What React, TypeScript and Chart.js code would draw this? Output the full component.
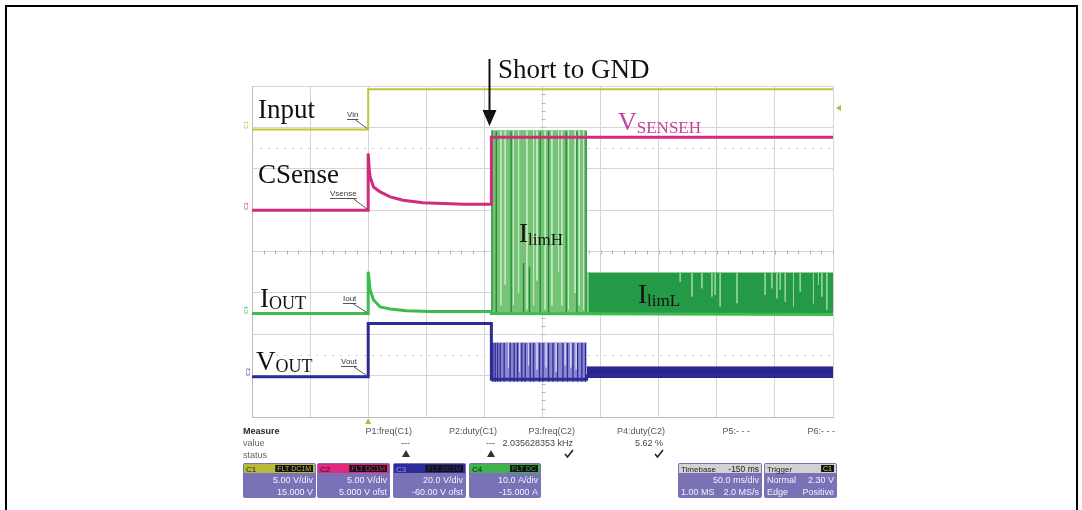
import React, { useEffect, useRef } from 'react';
import { Chart, registerables } from 'chart.js';

Chart.register(...registerables);

const W = 1082;
const H = 510;

// ---------- data: time in ms (50 ms/div), vertical position in screen divisions (0 = bottom) ----------
const timeMin = -100;
const timeMax = 400;
const timeStep = 50;
const divMin = 0;
const divMax = 8;

const shortT = 106; // short to GND instant
const foldbackT = 188; // switch from IlimH to IlimL

const inputT = [-100, 0, 0, 400];
const inputDiv = [6.95, 6.95, 7.92, 7.92];

const csenseT = [-100, 0, 0, 1, 1.7, 4.6, 10.3, 19, 30, 47, 82, 106, 106, 400];
const csenseDiv = [5.0, 5.0, 6.37, 5.95, 5.8, 5.56, 5.44, 5.32, 5.24, 5.18, 5.14, 5.14, 6.76, 6.76];

const ioutT = [-100, 0, 0, 1.7, 4.6, 10.3, 19, 33, 53, 106, 106, 400];
const ioutDiv = [2.5, 2.5, 3.51, 3.07, 2.83, 2.66, 2.61, 2.57, 2.55, 2.55, 2.5, 2.48];

const voutT = [-100, 0, 0, 106, 106, 188, 188, 400];
const voutDiv = [0.97, 0.97, 2.26, 2.26, 0.91, 0.91, 1.0, 1.0];

// burst envelopes [top, bottom]
const ilimHBand = [6.92, 2.5];
const ilimLBand = [3.48, 2.47];
const voutHBand = [1.79, 0.85];
const voutLBand = [1.21, 0.94];

const ilimHDarkT = [106.5, 110.2, 123.0, 133.7, 138.8, 148.0, 155.2, 170.4, 179.6, 187.6];
const ilimHDarkTop = [6.92, 6.9, 6.9, 3.72, 3.63, 6.9, 6.9, 6.9, 6.9, 6.9];
const ilimHLightT = [114.2, 117.9, 125.0, 129.4, 136.6, 142.3, 145.2, 152.3, 158.1, 163.8, 166.7, 172.4, 178.1, 181.6, 185.3];
const ilimHLightBottom = [2.7, 3.2, 2.7, 3.0, 2.6, 2.7, 3.3, 2.6, 2.7, 3.5, 2.7, 2.6, 3.0, 2.7, 2.6];

const ilimLSpikeT = [189, 268.5, 278.6, 287.2, 295.8, 298.6, 302.9, 317.3, 341.6, 347.4, 351.7, 354.6, 358.9, 366.0, 371.8, 383.2, 387.5, 390.4, 394.7];
const ilimLSpikeBottom = [2.5, 3.27, 2.91, 3.11, 2.91, 2.95, 2.67, 2.75, 2.95, 3.11, 2.87, 3.07, 2.79, 2.67, 3.03, 2.75, 3.19, 2.91, 2.59];

const voutHDarkT = [107.3, 109.3, 111.3, 113.6, 117.0, 122.2, 125.6, 128.5, 132.2, 135.1, 139.4, 142.3, 147.4, 150.4, 155.2, 159.0, 162.9, 167.6, 171.5, 176.2, 180.2, 183.9, 187.0];
const voutHLightT = [120.7, 130.2, 138.0, 145.2, 153.2, 161.8, 169.5, 174.4, 179.0];
const voutHLightBottom = [1.2, 1.1, 1.25, 1.15, 1.2, 1.1, 1.25, 1.2, 1.15];

const dottedRowsDiv = [6.5, 1.5];
const triggerLevelDiv = 7.47;

// ---------- texts ----------
const measureNames = ['P1:freq(C1)', 'P2:duty(C1)', 'P3:freq(C2)', 'P4:duty(C2)', 'P5:- - -', 'P6:- - -'];
const measureValues = ['---', '---', '2.035628353 kHz', '5.62 %', '', ''];
const measureStatus = ['warn', 'warn', 'ok', 'ok', '', ''];
const channelNames = ['C1', 'C2', 'C3', 'C4'];
const channelTags = ['FLT DC1M', 'FLT DC1M', 'FLT DC1M', 'FLT DC'];
const channelScales = ['5.00 V/div', '5.00 V/div', '20.0 V/div', '10.0 A/div'];
const channelOffsets = ['15.000 V', '5.000 V ofst', '-60.00 V ofst', '-15.000 A'];

const serif = '"Liberation Serif", "Times New Roman", serif';
const sans = '"Liberation Sans", Arial, sans-serif';

const xy = (ts: number[], vs: number[]) => ts.map((t, i) => ({ x: t, y: vs[i] }));
const segs = (ts: number[], from: number[] | number, to: number[] | number) => {
  const pts: any[] = [];
  ts.forEach((t, i) => {
    const a = Array.isArray(from) ? from[i] : from;
    const b = Array.isArray(to) ? to[i] : to;
    pts.push({ x: t, y: a }, { x: t, y: b }, { x: t, y: null });
  });
  return pts;
};

const ds = (label: string, data: any[], color: string, width: number, order: number, extra: any = {}) => ({
  label,
  data,
  borderColor: color,
  backgroundColor: color,
  borderWidth: width,
  pointRadius: 0,
  tension: 0,
  fill: false,
  spanGaps: false,
  order,
  ...extra,
});

function subText(ctx: CanvasRenderingContext2D, main: string, sub: string, x: number, y: number, color: string, mainSize: number, subSize: number, drop: number) {
  ctx.fillStyle = color;
  ctx.textAlign = 'left';
  ctx.font = `${mainSize}px ${serif}`;
  ctx.fillText(main, x, y);
  const w = ctx.measureText(main).width;
  ctx.font = `${subSize}px ${serif}`;
  ctx.fillText(sub, x + w, y + drop);
}

function rrect(ctx: CanvasRenderingContext2D, x: number, y: number, w: number, h: number, r: number) {
  ctx.beginPath();
  ctx.moveTo(x + r, y);
  ctx.lineTo(x + w - r, y);
  ctx.quadraticCurveTo(x + w, y, x + w, y + r);
  ctx.lineTo(x + w, y + h - r);
  ctx.quadraticCurveTo(x + w, y + h, x + w - r, y + h);
  ctx.lineTo(x + r, y + h);
  ctx.quadraticCurveTo(x, y + h, x, y + h - r);
  ctx.lineTo(x, y + r);
  ctx.quadraticCurveTo(x, y, x + r, y);
  ctx.closePath();
}

function panelBox(
  ctx: CanvasRenderingContext2D,
  x: number,
  w: number,
  headColor: string,
  headLeft: string,
  headLeftColor: string,
  tag: string,
  tagColor: string,
  headRight: string,
  rows: [string, string][]
) {
  const y = 463;
  const h = 35;
  const hh = 10;
  ctx.fillStyle = '#7a72b7';
  rrect(ctx, x, y, w, h, 2);
  ctx.fill();
  ctx.fillStyle = headColor;
  ctx.fillRect(x + 1, y + 1, w - 2, hh - 1);
  ctx.font = `8px ${sans}`;
  ctx.textAlign = 'left';
  ctx.fillStyle = headLeftColor;
  ctx.fillText(headLeft, x + 3, y + 8.5);
  if (tag) {
    ctx.font = `7px ${sans}`;
    const tw = ctx.measureText(tag).width + 4;
    ctx.fillStyle = '#141414';
    ctx.fillRect(x + w - 3 - tw, y + 2, tw, hh - 3);
    ctx.fillStyle = tagColor;
    ctx.fillText(tag, x + w - 1 - tw, y + 8);
  }
  if (headRight) {
    ctx.font = `8.5px ${sans}`;
    ctx.textAlign = 'right';
    ctx.fillStyle = '#222';
    ctx.fillText(headRight, x + w - 3, y + 8.5);
  }
  ctx.font = `9px ${sans}`;
  ctx.fillStyle = '#f2f2fb';
  rows.forEach((r, i) => {
    const by = y + 20 + i * 11.5;
    if (r[0]) {
      ctx.textAlign = 'left';
      ctx.fillText(r[0], x + 3, by);
    }
    if (r[1]) {
      ctx.textAlign = 'right';
      ctx.fillText(r[1], x + w - 3, by);
    }
  });
}

const deco = {
  id: 'deco',
  beforeDraw(chart: any) {
    const ctx = chart.ctx;
    ctx.save();
    ctx.fillStyle = '#ffffff';
    ctx.fillRect(0, 0, W, H);
    ctx.restore();
  },
  beforeDatasetsDraw(chart: any) {
    const ctx: CanvasRenderingContext2D = chart.ctx;
    const xs = chart.scales.x;
    const ys = chart.scales.y;
    ctx.save();
    ctx.strokeStyle = '#d0d0d0';
    ctx.lineWidth = 1;
    ctx.setLineDash([2, 6]);
    dottedRowsDiv.forEach((d) => {
      const py = Math.round(ys.getPixelForValue(d)) + 0.5;
      ctx.beginPath();
      ctx.moveTo(xs.left, py);
      ctx.lineTo(xs.right, py);
      ctx.stroke();
    });
    ctx.setLineDash([]);
    ctx.strokeStyle = '#b5b5b5';
    const cy = Math.round(ys.getPixelForValue((divMin + divMax) / 2)) + 0.5;
    ctx.beginPath();
    for (let t = timeMin; t <= timeMax; t += 10) {
      const px = Math.round(xs.getPixelForValue(t)) + 0.5;
      ctx.moveTo(px, cy - 2);
      ctx.lineTo(px, cy + 2);
    }
    const cx = Math.round(xs.getPixelForValue((timeMin + timeMax) / 2)) + 0.5;
    for (let d = divMin; d <= divMax; d += 0.2) {
      const py = Math.round(ys.getPixelForValue(d)) + 0.5;
      ctx.moveTo(cx - 2, py);
      ctx.lineTo(cx + 2, py);
    }
    ctx.stroke();
    ctx.restore();
  },
  afterDraw(chart: any) {
    const ctx: CanvasRenderingContext2D = chart.ctx;
    const xs = chart.scales.x;
    const ys = chart.scales.y;
    ctx.save();
    ctx.textBaseline = 'alphabetic';

    // trace names
    ctx.fillStyle = '#111';
    ctx.font = `27px ${serif}`;
    ctx.textAlign = 'left';
    ctx.fillText('Input', 258, 118);
    ctx.fillText('CSense', 258, 183);
    subText(ctx, 'I', 'OUT', 260, 307, '#111', 27, 18, 2);
    subText(ctx, 'V', 'OUT', 256, 370, '#111', 27, 18, 2);
    subText(ctx, 'I', 'limH', 519, 242, '#111', 27, 17, 3);
    subText(ctx, 'I', 'limL', 638, 303, '#111', 27, 17, 3);
    subText(ctx, 'V', 'SENSEH', 618, 130, '#c2429c', 26, 17, 3);

    // short to GND arrow
    const ax = Math.round(xs.getPixelForValue(shortT)) - 1.5;
    ctx.fillStyle = '#111';
    ctx.font = `27px ${serif}`;
    ctx.fillText('Short to GND', 498, 78);
    ctx.strokeStyle = '#111';
    ctx.lineWidth = 2;
    ctx.beginPath();
    ctx.moveTo(ax, 59);
    ctx.lineTo(ax, 112);
    ctx.stroke();
    ctx.beginPath();
    ctx.moveTo(ax - 7, 110);
    ctx.lineTo(ax + 7, 110);
    ctx.lineTo(ax, 126);
    ctx.closePath();
    ctx.fill();

    // small probe labels with leaders
    const t0 = xs.getPixelForValue(0);
    const probe = (txt: string, x: number, y: number, levelDiv: number) => {
      ctx.font = `8px ${sans}`;
      ctx.fillStyle = '#3a3a3a';
      ctx.textAlign = 'left';
      ctx.fillText(txt, x, y);
      const w = ctx.measureText(txt).width;
      ctx.strokeStyle = '#555';
      ctx.lineWidth = 1;
      ctx.beginPath();
      ctx.moveTo(x, y + 2.5);
      ctx.lineTo(x + w, y + 2.5);
      ctx.moveTo(x + w - 3, y + 3);
      ctx.lineTo(t0 - 1, ys.getPixelForValue(levelDiv) - 1);
      ctx.stroke();
    };
    probe('Vin', 347, 117, inputDiv[0]);
    probe('Vsense', 330, 196, csenseDiv[0]);
    probe('Iout', 343, 301, ioutDiv[0]);
    probe('Vout', 341, 364, voutDiv[0]);

    // channel ground markers
    const marker = (txt: string, x: number, y: number, color: string) => {
      ctx.save();
      ctx.translate(x, y);
      ctx.rotate(-Math.PI / 2);
      ctx.font = `6px ${sans}`;
      ctx.fillStyle = color;
      ctx.textAlign = 'center';
      ctx.fillText(txt, 0, 0);
      ctx.restore();
    };
    marker('C1', 248, 125, '#b8b83a');
    marker('C2', 248, 206, '#d12a7e');
    marker('C4', 248, 310, '#3cbc4c');
    marker('C3', 250, 372, '#2c2c98');

    // trigger level marker (right) and trigger position marker (bottom)
    const ty = ys.getPixelForValue(triggerLevelDiv);
    ctx.fillStyle = '#b8b83a';
    ctx.beginPath();
    ctx.moveTo(836, ty);
    ctx.lineTo(841, ty - 3);
    ctx.lineTo(841, ty + 3);
    ctx.closePath();
    ctx.fill();
    ctx.beginPath();
    ctx.moveTo(t0 - 3, 424);
    ctx.lineTo(t0 + 3, 424);
    ctx.lineTo(t0, 418);
    ctx.closePath();
    ctx.fill();

    // measurement table
    ctx.font = `bold 9px ${sans}`;
    ctx.fillStyle = '#2a2a2a';
    ctx.textAlign = 'left';
    ctx.fillText('Measure', 243, 434);
    ctx.font = `9px ${sans}`;
    ctx.fillStyle = '#666';
    ctx.fillText('value', 243, 446);
    ctx.fillText('status', 243, 458);
    const colRight = [412, 497, 575, 665, 750, 835];
    ctx.textAlign = 'right';
    measureNames.forEach((n, i) => {
      ctx.fillStyle = '#555';
      ctx.fillText(n, colRight[i], 434);
      ctx.fillStyle = '#444';
      if (measureValues[i]) ctx.fillText(measureValues[i], colRight[i] - 2, 446);
      const sx = colRight[i] - 6;
      if (measureStatus[i] === 'warn') {
        ctx.fillStyle = '#333';
        ctx.beginPath();
        ctx.moveTo(sx - 4, 457);
        ctx.lineTo(sx + 4, 457);
        ctx.lineTo(sx, 450);
        ctx.closePath();
        ctx.fill();
      } else if (measureStatus[i] === 'ok') {
        ctx.strokeStyle = '#222';
        ctx.lineWidth = 1.6;
        ctx.beginPath();
        ctx.moveTo(sx - 4, 454);
        ctx.lineTo(sx - 1.5, 457);
        ctx.lineTo(sx + 4, 450);
        ctx.stroke();
      }
    });

    const chX = [243, 317, 393, 469];
    const chW = [73, 73, 73, 72];
    const chHead = ['#b9b93c', '#e3287f', '#2c2c9e', '#3fb24b'];
    const chNameColor = ['#1a1a1a', '#1a1a1a', '#9a9ae0', '#1a1a1a'];
    channelNames.forEach((n, i) => {
      panelBox(ctx, chX[i], chW[i], chHead[i], n, chNameColor[i], channelTags[i], chHead[i], '', [
        ['', channelScales[i]],
        ['', channelOffsets[i]],
      ]);
    });
    panelBox(ctx, 678, 84, '#d2d2d2', 'Timebase', '#222', '', '', '-150 ms', [
      ['', '50.0 ms/div'],
      ['1.00 MS', '2.0 MS/s'],
    ]);
    panelBox(ctx, 764, 73, '#d2d2d2', 'Trigger', '#222', 'C1', '#d8d860', '', [
      ['Normal', '2.30 V'],
      ['Edge', 'Positive'],
    ]);

    // outer frame
    ctx.strokeStyle = '#000';
    ctx.lineWidth = 2;
    ctx.beginPath();
    ctx.moveTo(6, H + 2);
    ctx.lineTo(6, 6);
    ctx.lineTo(1077, 6);
    ctx.lineTo(1077, H + 2);
    ctx.stroke();
    ctx.restore();
  },
};

export default function App() {
  const ref = useRef<HTMLCanvasElement>(null);
  useEffect(() => {
    const canvas = ref.current;
    if (!canvas) return;
    const datasets: any[] = [
      ds('CSense', xy(csenseT, csenseDiv), '#d12a7e', 3, 1),
      ds('Input', xy(inputT, inputDiv), '#c4c43a', 2, 1),
      ds('Vout', xy(voutT, voutDiv), '#2c2c98', 3, 2),
      ds('Vout H light', segs(voutHLightT, voutHBand[0], voutHLightBottom), '#cfcdef', 1, 3),
      ds('Vout H dark', segs(voutHDarkT, voutHBand[1], voutHBand[0]), '#2c2c98', 1.3, 4),
      ds('Vout H band', xy([shortT, foldbackT], [voutHBand[0], voutHBand[0]]), '#8c88d0', 1, 6, {
        fill: { value: voutHBand[1] },
        backgroundColor: '#8c88d0',
      }),
      ds('Vout L band', xy([foldbackT, timeMax], [voutLBand[0], voutLBand[0]]), '#27278f', 1, 6, {
        fill: { value: voutLBand[1] },
        backgroundColor: '#27278f',
      }),
      ds('Iout', xy(ioutT, ioutDiv), '#3cbc4c', 3, 2),
      ds('IlimL spikes', segs(ilimLSpikeT, ilimLBand[0], ilimLSpikeBottom), '#93d593', 1, 3),
      ds('IlimH light', segs(ilimHLightT, ilimHBand[0], ilimHLightBottom), '#c6e9c6', 1, 3),
      ds('IlimH dark', segs(ilimHDarkT, ilimHBand[1], ilimHDarkTop), '#1c8a36', 1.3, 4),
      ds('IlimH band', xy([shortT, foldbackT], [ilimHBand[0], ilimHBand[0]]), '#76c376', 1, 7, {
        fill: { value: ilimHBand[1] },
        backgroundColor: '#76c376',
      }),
      ds('IlimL band', xy([foldbackT, timeMax], [ilimLBand[0], ilimLBand[0]]), '#249a46', 1, 7, {
        fill: { value: ilimLBand[1] },
        backgroundColor: '#249a46',
      }),
    ];
    const chart = new Chart(canvas, {
      type: 'line',
      data: { datasets },
      options: {
        responsive: false,
        animation: false,
        events: [],
        layout: { padding: { left: 252, top: 86, right: W - 833, bottom: H - 417 } },
        plugins: { legend: { display: false }, tooltip: { enabled: false }, title: { display: false } },
        scales: {
          x: {
            type: 'linear',
            min: timeMin,
            max: timeMax,
            ticks: { display: false, stepSize: timeStep },
            grid: { color: '#d5d5d5', drawTicks: false, lineWidth: 1 },
            border: { color: '#bcbcbc' },
          },
          y: {
            type: 'linear',
            min: divMin,
            max: divMax,
            ticks: { display: false, stepSize: 1 },
            grid: { color: '#d5d5d5', drawTicks: false, lineWidth: 1 },
            border: { color: '#bcbcbc' },
          },
        },
      },
      plugins: [deco],
    } as any);
    return () => chart.destroy();
  }, []);
  return (
    <div style={{ position: 'absolute', left: 0, top: 0, width: W, height: H, background: '#fff' }}>
      <canvas ref={ref} width={W} height={H} style={{ display: 'block', width: W, height: H }} />
    </div>
  );
}
